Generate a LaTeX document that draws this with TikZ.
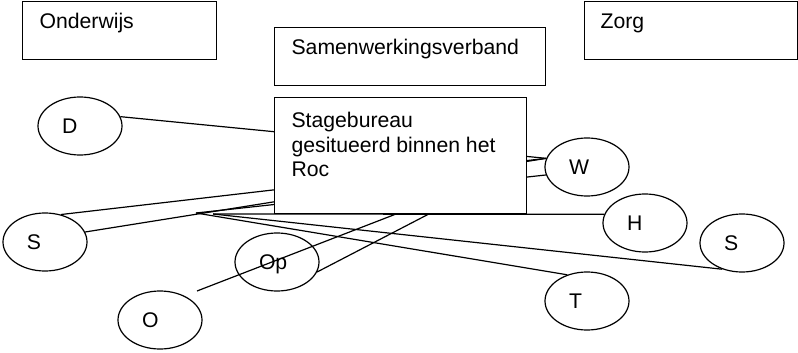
\documentclass[tikz,border=0pt]{standalone}
\usepackage{fontspec}
\setmainfont{Liberation Sans}
\usetikzlibrary{shapes.geometric,calc}
\pgfdeclarelayer{bg}
\pgfsetlayers{bg,main}
\begin{document}
\begin{tikzpicture}[x=1pt,y=-1pt,line width=1.2pt,
  every node/.style={font=\fontsize{21.2}{24.5}\selectfont},
  box/.style={draw,fill=white,rectangle,anchor=north west,inner sep=0pt},
  oval/.style={draw,ellipse,minimum width=84pt,minimum height=58pt,inner sep=0pt,text height=15pt,text depth=0pt},
  lbl/.style={anchor=base west,inner sep=0pt},
  conn/.style={draw,line width=1.2pt}]
\useasboundingbox (0,0) rectangle (798,353);
% boxes
\node[box,minimum width=194pt,minimum height=58pt] (onderwijs) at (22,1) {};
\node[box,minimum width=271pt,minimum height=58pt] (samen) at (274,27) {};
\node[box,minimum width=213pt,minimum height=58pt] (zorg) at (584,1) {};
\node[box,minimum width=252pt,minimum height=116pt] (stage) at (274,97) {};
\node[lbl] (onderwijsT) at (39,29) {Onderwijs};
\node[lbl] (samenT) at (291,55) {Samenwerkingsverband};
\node[lbl] (zorgT) at (600,29) {Zorg};
\node[lbl] (stageT1) at (291,127) {Stagebureau};
\node[lbl] (stageT2) at (291,152) {gesitueerd binnen het};
\node[lbl] (stageT3) at (291,176) {Roc};
% ellipses
\node[oval] (D) at (80,126) {\makebox[36pt][l]{D}};
\node[oval] (S1) at (45,242) {\makebox[36pt][l]{S}};
\node[oval] (Op) at (277,262) {\makebox[36pt][l]{Op}};
\node[oval] (O) at (160,320) {\makebox[36pt][l]{O}};
\node[oval] (W) at (587,167) {\makebox[36pt][l]{W}};
\node[oval] (H) at (645,223) {\makebox[36pt][l]{H}};
\node[oval] (S2) at (742,243) {\makebox[36pt][l]{S}};
\node[oval] (T) at (587,301) {\makebox[36pt][l]{T}};
% free ends
\coordinate (P1) at (196,213);
\coordinate (P2) at (213,214);
\coordinate (Ostart) at (197,291);
\begin{pgfonlayer}{bg}
\draw[conn] (D.13) -- (W.168);
\draw[conn] (S1.60) -- (W.168);
\draw[conn] (S1.14) -- (W.168);
\draw[conn] (P1) -- (W.191);
\draw[conn] (P1) -- (T.127);
\draw[conn] (P2) -- (S2.233);
\draw[conn] (P2) -- (H.168);
\draw[conn] (Ostart) -- ($(stage.south west)!0.48!(stage.south east)$);
\draw[conn] (Op.346) -- ($(stage.south west)!0.61!(stage.south east)$);
\end{pgfonlayer}
\end{tikzpicture}
\end{document}
